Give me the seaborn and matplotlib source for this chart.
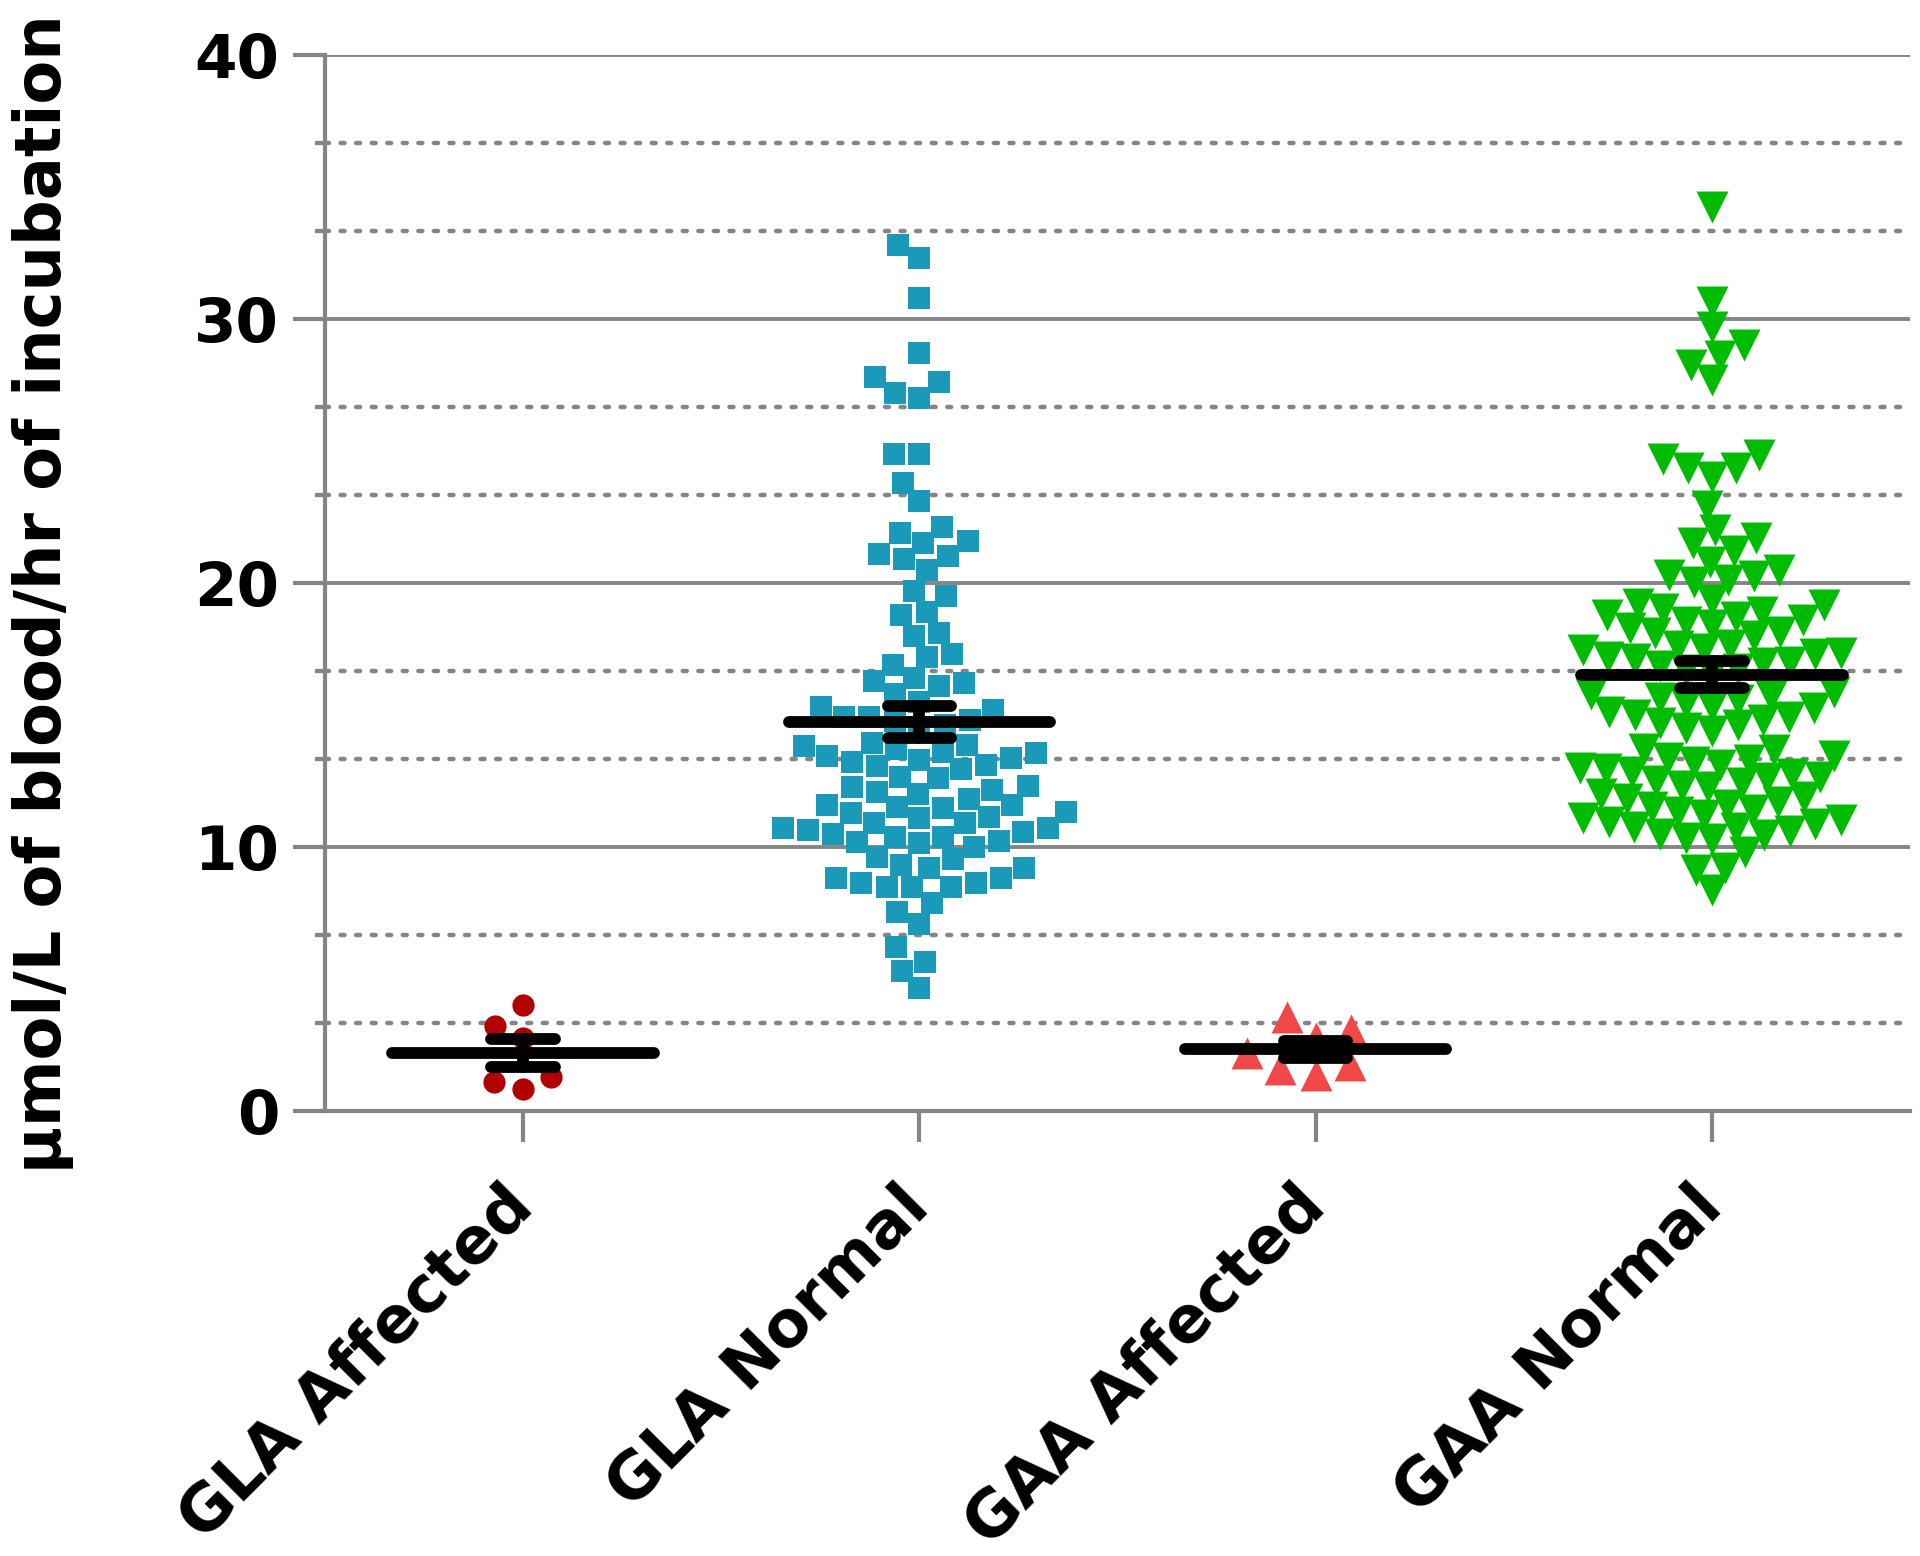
import numpy as np
import pandas as pd
import matplotlib
matplotlib.use('Agg')
import matplotlib.pyplot as plt
from matplotlib.ticker import MultipleLocator
import seaborn as sns

# groups and values (umol/L of blood/hr)
groups = ['GLA Affected', 'GLA Normal', 'GAA Affected', 'GAA Normal']

gla_affected = [4.0, 3.2, 2.75, 1.28, 0.81, 1.09]

gla_normal = [
    32.8, 32.3, 30.8, 28.7, 27.8, 27.6, 27.2, 27.0,
    24.9, 24.9, 23.8, 23.1, 22.1, 21.9, 21.6, 21.5, 21.1, 21.0, 20.9,
    20.5, 19.7, 19.5, 18.9, 18.8, 18.1, 18.0, 17.3, 17.2, 16.9,
    16.4, 16.3, 16.2, 16.1, 15.8, 15.5, 15.3, 15.2, 14.9, 14.9,
    14.8, 14.75, 14.6, 14.55,
    13.95, 13.85, 13.8, 13.7, 13.6, 13.55, 13.45, 13.35, 13.3, 13.2, 13.1, 13.05, 12.95,
    12.65, 12.6, 12.3, 12.27, 12.15, 12.08, 12.0, 11.8, 11.6, 11.58, 11.5,
    11.46, 11.33, 11.27, 11.14, 11.08, 10.89, 10.89, 10.7, 10.7, 10.64, 10.57,
    10.5, 10.38, 10.38, 10.2, 10.19, 10.13,
    10.0, 9.6, 9.52, 9.31, 9.18, 9.18, 8.8, 8.8, 8.61, 8.61, 8.48, 8.48, 8.48,
    7.88, 7.54, 7.07, 6.19, 5.64, 5.29, 4.63,
]

gaa_affected = [2.75, 1.74, 1.35, 3.55, 1.58, 2.19, 3.07]

gaa_normal = [
    34.25, 30.65, 29.7, 29.0, 28.6, 28.25, 27.7,
    24.85, 24.7, 24.35, 24.35, 24.0, 22.9, 22.0, 21.7, 21.5, 21.2,
    20.8, 20.5, 20.3, 20.25, 20.1, 20.05,
    19.35, 19.2, 19.15, 19.0, 18.9, 18.8, 18.7, 18.6, 18.5, 18.4, 18.3, 18.15, 18.1, 18.0,
    17.65, 17.6, 17.5, 17.45, 17.35, 17.3, 17.2, 17.1, 17.0, 16.95, 16.85, 16.75, 16.7, 16.6,
    15.85, 15.8, 15.7, 15.65, 15.55, 15.45, 15.35, 15.25, 15.1, 15.0, 14.9, 14.8, 14.7, 14.6, 14.5, 14.4,
    13.7, 13.66,
    13.45, 13.35, 13.3, 13.2, 13.1, 13.0, 12.95, 12.85, 12.75, 12.65, 12.6, 12.5, 12.4, 12.3, 12.25,
    12.0, 11.9, 11.8, 11.7, 11.6, 11.5, 11.4, 11.3, 11.2, 11.1,
    11.0, 10.95, 10.85, 10.75, 10.7, 10.6, 10.5, 10.45, 10.35, 10.3,
    9.81, 9.18, 9.12, 8.36,
]

colors = ['#B00000', '#1A9AB8', '#F04848', '#00BC00']
markers = ['o', 's', '^', 'v']
layout_size = [21, 17.5, 25, 18]      # spacing the swarm is laid out with
marker_size = [16, 15.5, 23, 23]      # size the markers are finally drawn at

df = pd.DataFrame({
    'group': np.repeat(groups, [len(gla_affected), len(gla_normal),
                                len(gaa_affected), len(gaa_normal)]),
    'value': gla_affected + gla_normal + gaa_affected + gaa_normal,
})

sns.set_theme(style='white')
plt.rcParams['font.family'] = ['DejaVu Sans']
plt.rcParams['font.weight'] = 'bold'
plt.rcParams['axes.labelweight'] = 'bold'
plt.rcParams['axes.labelcolor'] = 'black'
plt.rcParams['lines.dash_capstyle'] = 'round'

GRAY = '#858585'

fig = plt.figure(figsize=(19.2, 15.56), dpi=100)
fig.patch.set_facecolor('white')
ax = fig.add_axes([0.1693, 0.2862, 0.8255, 0.6784])

for g, col, mk, lay, big in zip(groups, colors, markers, layout_size, marker_size):
    n0 = len(ax.collections)
    sns.swarmplot(data=df[df['group'] == g], x='group', y='value', order=groups,
                  color=col, marker=mk, size=lay, linewidth=0, ax=ax, zorder=3)
    for coll in ax.collections[n0:]:
        coll.final_size = big

# mean with SEM bars
stats = df.groupby('group', sort=False)['value'].agg(['mean', 'sem'])
line_kw = dict(color='black', lw=8.5, solid_capstyle='round', zorder=5)
for i, g in enumerate(groups):
    m, se = stats.loc[g, 'mean'], stats.loc[g, 'sem']
    ax.plot([i - 0.33, i + 0.33], [m, m], **line_kw)
    ax.plot([i, i], [m - se, m + se], **line_kw)
    ax.plot([i - 0.08, i + 0.08], [m - se, m - se], **line_kw)
    ax.plot([i - 0.08, i + 0.08], [m + se, m + se], **line_kw)

ax.set_xlim(-0.5, 3.5)
ax.set_ylim(0, 40)
ax.yaxis.set_major_locator(MultipleLocator(10))
ax.yaxis.set_minor_locator(MultipleLocator(10 / 3))
ax.set_axisbelow(True)
ax.grid(False)
ax.yaxis.grid(True, which='major', color=GRAY, lw=2.8, ls='-')
ax.yaxis.grid(True, which='minor', color=GRAY, lw=3.2, ls=(0, (0.9, 2.6)))

sns.despine(ax=ax)
for s in ['left', 'bottom']:
    ax.spines[s].set_color(GRAY)
    ax.spines[s].set_linewidth(3)

ax.tick_params(axis='y', which='major', left=True, direction='out', length=23,
               width=3, color=GRAY, pad=10, labelsize=44, labelcolor='black')
ax.tick_params(axis='y', which='minor', left=True, direction='out', length=7,
               width=3, color=GRAY)
ax.tick_params(axis='x', bottom=True, direction='out', length=22, width=3,
               color=GRAY, pad=40, labelcolor='black')
ax.set_xticks(range(len(groups)))
ax.set_xticklabels(groups, rotation=45, ha='right', va='center',
                   rotation_mode='anchor', fontsize=46, fontweight='bold')
ax.set_xlabel('')
ax.set_ylabel('μmol/L of blood/hr of incubation', fontsize=46,
              fontweight='bold', va='center', color='black')
ax.yaxis.set_label_coords(-0.178, 0.49)

# lay the swarm out once, then blow the markers up to their real size
fig.canvas.draw()
for coll in ax.collections:
    if hasattr(coll, 'final_size'):
        vars(coll).pop('draw', None)
        coll.set_sizes([coll.final_size ** 2])

fig.savefig('out.png', dpi=100, facecolor='white')
